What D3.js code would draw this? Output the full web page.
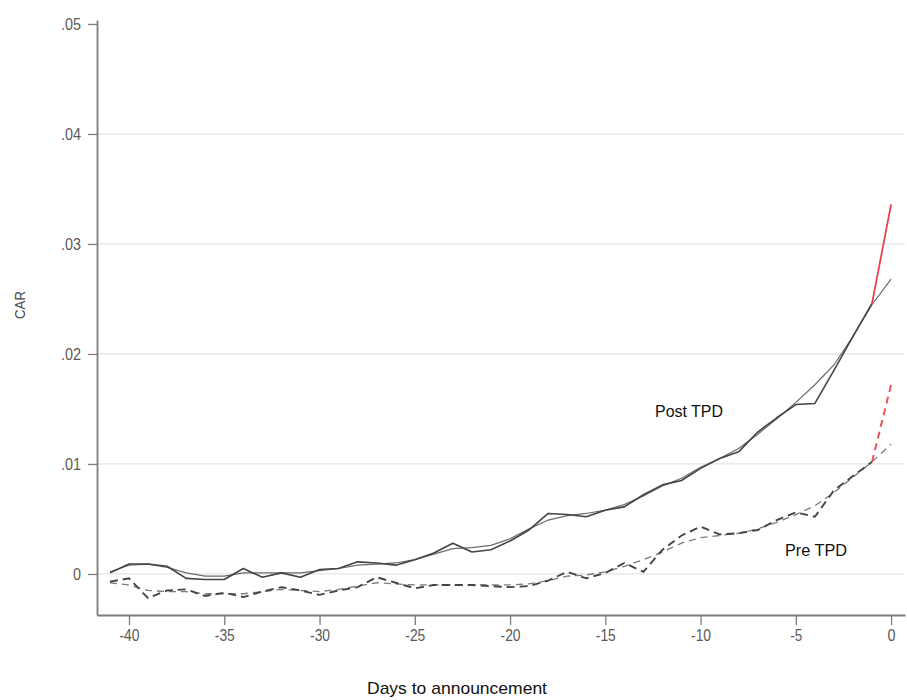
<!DOCTYPE html>
<html>
<head>
<meta charset="utf-8">
<script src="https://cdn.jsdelivr.net/npm/d3@7"></script>
<style>
  html, body { margin: 0; padding: 0; background: #fff; }
  svg { display: block; }
</style>
</head>
<body>
<svg id="chart" width="907" height="700"></svg>
<script>
// Event window (days relative to the announcement)
const days = d3.range(-41, 1);

// Cumulative abnormal returns, post-TPD sample: daily path (days -41..-1) and fitted curve (days -41..0)
const postDaily = [0.0001, 0.0009, 0.0009, 0.0007, -0.0004, -0.0005, -0.0005, 0.0005, -0.0003, 0.0001,
  -0.0003, 0.0004, 0.0005, 0.0011, 0.0010, 0.0008, 0.0013, 0.0019, 0.0028, 0.0020,
  0.0022, 0.0030, 0.0040, 0.0055, 0.0054, 0.0052, 0.0058, 0.0061, 0.0072, 0.0081,
  0.0085, 0.0096, 0.0105, 0.0111, 0.0129, 0.0142, 0.0154, 0.0155, 0.0185, 0.0216, 0.0246];
const postFit = [0.0002, 0.0008, 0.0009, 0.0006, 0.0001, -0.0002, -0.0002, 0.0001, 0.0001, 0.0001,
  0.0001, 0.0003, 0.0005, 0.0008, 0.0009, 0.0010, 0.0013, 0.0018, 0.0023, 0.0024,
  0.0026, 0.0032, 0.0041, 0.0049, 0.0053, 0.0055, 0.0058, 0.0063, 0.0071, 0.0080,
  0.0087, 0.0097, 0.0105, 0.0114, 0.0127, 0.0141, 0.0156, 0.0172, 0.0190, 0.0216, 0.0245, 0.0268];
const postDay0 = 0.0336;

// Cumulative abnormal returns, pre-TPD sample
const preDaily = [-0.0007, -0.0004, -0.0022, -0.0015, -0.0014, -0.0020, -0.0017, -0.0021, -0.0016, -0.0012,
  -0.0015, -0.0019, -0.0015, -0.0012, -0.0003, -0.0008, -0.0013, -0.0010, -0.0010, -0.0010,
  -0.0011, -0.0012, -0.0011, -0.0006, 0.0002, -0.0004, 0.0001, 0.0010, 0.0002, 0.0022,
  0.0035, 0.0043, 0.0036, 0.0037, 0.0040, 0.0049, 0.0056, 0.0052, 0.0076, 0.0089, 0.0102];
const preFit = [-0.0008, -0.0010, -0.0015, -0.0016, -0.0016, -0.0018, -0.0018, -0.0018, -0.0016, -0.0014,
  -0.0015, -0.0016, -0.0014, -0.0011, -0.0008, -0.0009, -0.0010, -0.0010, -0.0010, -0.0010,
  -0.0010, -0.0010, -0.0009, -0.0006, -0.0002, -0.0001, 0.0002, 0.0007, 0.0013, 0.0020,
  0.0028, 0.0033, 0.0035, 0.0037, 0.0041, 0.0047, 0.0054, 0.0062, 0.0074, 0.0088, 0.0102, 0.0118];
const preDay0 = 0.0172;

// Axis ticks
const xTicks = [-40, -35, -30, -25, -20, -15, -10, -5, 0];
const xTickLabels = ["-40", "-35", "-30", "-25", "-20", "-15", "-10", "-5", "0"];
const yTicks = [0, 0.01, 0.02, 0.03, 0.04, 0.05];
const yTickLabels = ["0", ".01", ".02", ".03", ".04", ".05"];
const gridValues = [0, 0.01, 0.02, 0.03, 0.04];

const svg = d3.select("#chart");

const x = d3.scaleLinear().domain([-41.68, 0.73]).range([97, 905]);
const y = d3.scaleLinear().domain([-0.00373, 0.05036]).range([615, 20]);

// Horizontal grid
svg.append("g")
  .selectAll("line")
  .data(gridValues)
  .join("line")
  .attr("x1", 98).attr("x2", 905)
  .attr("y1", d => y(d)).attr("y2", d => y(d))
  .attr("stroke", "#e4e4e4")
  .attr("stroke-width", 1.2);

const line = d3.line().x(d => x(d[0])).y(d => y(d[1]));
const pairs = (vals) => vals.map((v, i) => [days[i], v]);

// Fitted curves (thin)
svg.append("path")
  .datum(pairs(postFit))
  .attr("d", line)
  .attr("fill", "none")
  .attr("stroke", "#6a6a6a")
  .attr("stroke-width", 1.2);

svg.append("path")
  .datum(pairs(preFit))
  .attr("d", line)
  .attr("fill", "none")
  .attr("stroke", "#7a7a7a")
  .attr("stroke-width", 1.3)
  .attr("stroke-dasharray", "7,5");

// Daily paths
svg.append("path")
  .datum(pairs(postDaily))
  .attr("d", line)
  .attr("fill", "none")
  .attr("stroke", "#444")
  .attr("stroke-width", 1.6)
  .attr("stroke-linejoin", "round");

svg.append("path")
  .datum(pairs(preDaily))
  .attr("d", line)
  .attr("fill", "none")
  .attr("stroke", "#444")
  .attr("stroke-width", 1.9)
  .attr("stroke-dasharray", "8,5");

// Announcement-day jump
svg.append("path")
  .datum([[-1, postDaily[postDaily.length - 1]], [0, postDay0]])
  .attr("d", line)
  .attr("fill", "none")
  .attr("stroke", "#e8424a")
  .attr("stroke-width", 1.8);

svg.append("path")
  .datum([[-1, preDaily[preDaily.length - 1]], [0, preDay0]])
  .attr("d", line)
  .attr("fill", "none")
  .attr("stroke", "#e8525a")
  .attr("stroke-width", 2)
  .attr("stroke-dasharray", "7,5");

// Axes
const yAxis = svg.append("g")
  .attr("transform", "translate(97,0)")
  .call(d3.axisLeft(y).tickValues(yTicks).tickSizeOuter(0).tickSizeInner(9).tickPadding(7)
    .tickFormat((d, i) => yTickLabels[i]));

const xAxis = svg.append("g")
  .attr("transform", "translate(0,615)")
  .call(d3.axisBottom(x).tickValues(xTicks).tickSizeOuter(0).tickSizeInner(10).tickPadding(5)
    .tickFormat((d, i) => xTickLabels[i]));

// narrow numerals: digits ~8px wide, "." and "-" ~4px
const narrowWidth = s => s.split("").reduce((a, c) => a + (/[0-9]/.test(c) ? 8 : 4), 0);

[yAxis, xAxis].forEach(g => {
  g.attr("font-family", '"Liberation Sans", "DejaVu Sans", sans-serif').attr("font-size", 16);
  g.select(".domain").attr("stroke", "#7c7c7c").attr("stroke-width", 1.8);
  g.selectAll(".tick line").attr("stroke", "#7c7c7c").attr("stroke-width", 1.3);
  g.selectAll(".tick text")
    .attr("fill", "#5a5a5a")
    .attr("textLength", function () { return narrowWidth(this.textContent); })
    .attr("lengthAdjust", "spacingAndGlyphs");
});

// Axis titles and series labels
const labelFont = '"Liberation Sans Narrow", "Liberation Sans", "DejaVu Sans", sans-serif';

svg.append("text")
  .attr("transform", "translate(25,305) rotate(-90)")
  .attr("text-anchor", "middle")
  .attr("font-family", labelFont)
  .attr("font-size", 15)
  .attr("fill", "#4a4a4a")
  .attr("textLength", 28)
  .attr("lengthAdjust", "spacingAndGlyphs")
  .text("CAR");

svg.append("text")
  .attr("x", 457).attr("y", 694)
  .attr("text-anchor", "middle")
  .attr("font-family", labelFont)
  .attr("font-size", 17)
  .attr("fill", "#111")
  .attr("textLength", 180)
  .attr("lengthAdjust", "spacingAndGlyphs")
  .text("Days to announcement");

svg.append("text")
  .attr("x", 655).attr("y", 417)
  .attr("font-family", labelFont)
  .attr("font-size", 17)
  .attr("fill", "#111")
  .attr("textLength", 68)
  .attr("lengthAdjust", "spacingAndGlyphs")
  .text("Post TPD");

svg.append("text")
  .attr("x", 785).attr("y", 556)
  .attr("font-family", labelFont)
  .attr("font-size", 17)
  .attr("fill", "#111")
  .attr("textLength", 62)
  .attr("lengthAdjust", "spacingAndGlyphs")
  .text("Pre TPD");
</script>
</body>
</html>
